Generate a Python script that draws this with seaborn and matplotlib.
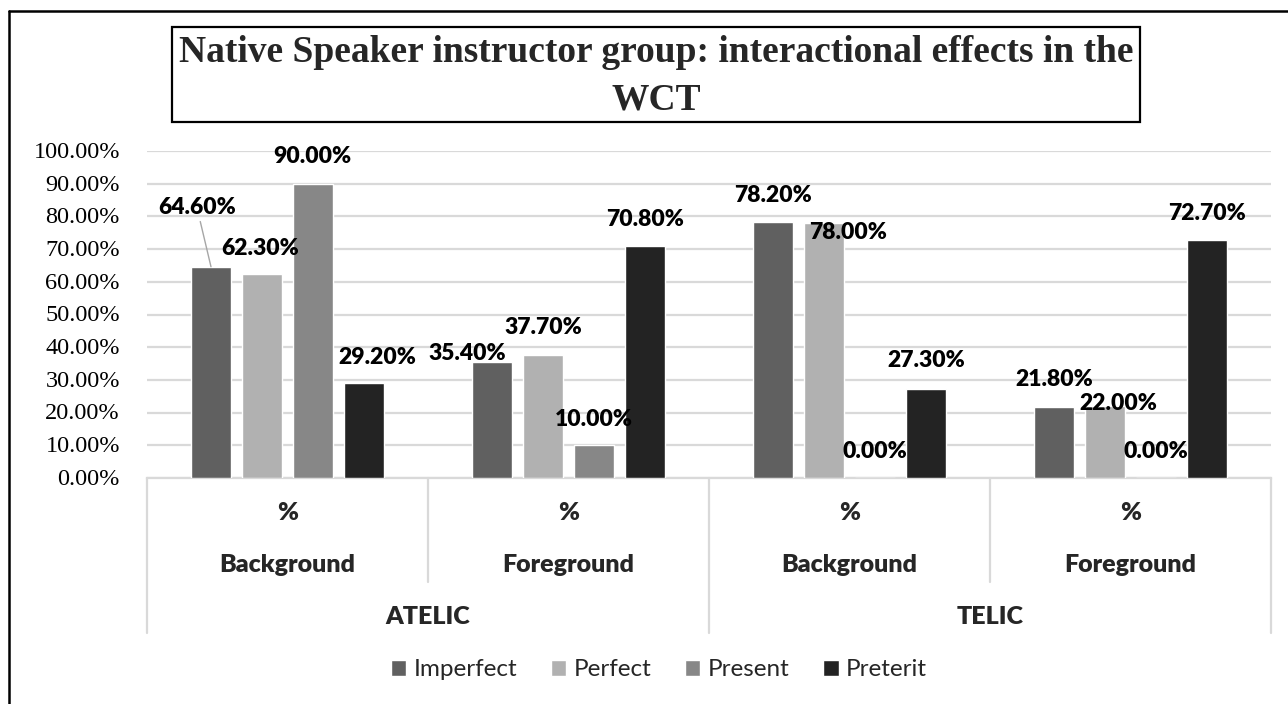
import matplotlib
matplotlib.use('Agg')
import matplotlib.pyplot as plt
from matplotlib.lines import Line2D
from matplotlib.patches import Rectangle
from matplotlib.transforms import blended_transform_factory
import pandas as pd
import seaborn as sns

# data
aspects = ['ATELIC', 'ATELIC', 'TELIC', 'TELIC']
grounds = ['Background', 'Foreground', 'Background', 'Foreground']
tenses = ['Imperfect', 'Perfect', 'Present', 'Preterit']
imperfect = [64.6, 35.4, 78.2, 21.8]
perfect = [62.3, 37.7, 78.0, 22.0]
present = [90.0, 10.0, 0.0, 0.0]
preterit = [29.2, 70.8, 27.3, 72.7]
y_ticks = [0, 10, 20, 30, 40, 50, 60, 70, 80, 90, 100]

colors = ['#606060', '#b1b1b1', '#878787', '#232323']
# label offsets from bar top, in pixels (dx, dy), per tense and group
label_px = [
    [(-14, -59), (-25, -9), (0, -27), (0, -27)],
    [(-2, -26), (0, -27), (24, 10), (13, -3)],
    [(-1, -27), (0, -26), (0, -26), (0, -26)],
    [(13, -25), (0, -27), (0, -28), (0, -27)],
]

W, H = 1288, 704
GRID = '#d9d9d9'
LABEL_FONT = 'Lato'
SERIF = 'Liberation Serif'

rows = []
series = [imperfect, perfect, present, preterit]
keys = [f'{a} {g}' for a, g in zip(aspects, grounds)]
for tense, vals in zip(tenses, series):
    for key, v in zip(keys, vals):
        rows.append({'group': key, 'tense': tense, 'value': v})
df = pd.DataFrame(rows)

sns.set_theme(style='white')
plt.rcParams['font.family'] = [SERIF, 'DejaVu Serif']

fig = plt.figure(figsize=(W / 100, H / 100), dpi=100)
ax = fig.add_axes([147 / W, 1 - 478 / H, 1124 / W, 327 / H])

sns.barplot(data=df, x='group', y='value', hue='tense', order=keys,
            hue_order=tenses, palette=colors, width=0.726, gap=0.216,
            saturation=1, ax=ax, zorder=3)

ax.set_ylim(0, 100)
ax.set_xlim(-0.5, 3.5)
ax.set_yticks(y_ticks)
ax.set_yticklabels([])
ax.tick_params(axis='y', length=0)
ax.set_xticks([])
ax.set_xlabel('')
ax.set_ylabel('')
ax.yaxis.grid(True, color=GRID, lw=1.6, zorder=0)
for s in ['top', 'right', 'left']:
    ax.spines[s].set_visible(False)
ax.spines['bottom'].set_color(GRID)
ax.spines['bottom'].set_linewidth(1.6)

# y tick labels, Times-like, right edge 27 px left of the axis
ytr = blended_transform_factory(ax.transAxes, ax.transData)
for t in y_ticks:
    ax.annotate(f'{t:.2f}%', xy=(0, t), xycoords=ytr, xytext=(-19.5, -1),
                textcoords='offset points', ha='right', va='center',
                family=SERIF, fontsize=17.5, color='black',
                annotation_clip=False)

# data labels
for k, cont in enumerate(ax.containers):
    for i, bar in enumerate(cont):
        dx, dy = label_px[k][i]
        x = bar.get_x() + bar.get_width() / 2
        top = bar.get_height()
        arrow = None
        if k == 0 and i == 0:
            arrow = dict(arrowstyle='-', color='#a6a6a6', lw=1,
                         shrinkA=0, shrinkB=0)
        ax.annotate(f'{series[k][i]:.2f}%', xy=(x, top),
                    xytext=(dx * 0.72, -dy * 0.72), textcoords='offset points',
                    ha='center', va='center', fontsize=16.5,
                    fontweight='heavy', family=LABEL_FONT, color='black',
                    arrowprops=arrow, zorder=5)

# multi-level category axis
tr = blended_transform_factory(ax.transData, ax.transAxes)
for xpos in [-0.5, 1.5, 3.5]:
    ax.add_line(Line2D([xpos, xpos], [0, -0.474], transform=tr, color=GRID,
                       lw=1.6, clip_on=False))
for xpos in [0.5, 2.5]:
    ax.add_line(Line2D([xpos, xpos], [0, -0.318], transform=tr, color=GRID,
                       lw=1.6, clip_on=False))
for i, g in enumerate(grounds):
    ax.text(i, -0.107, '%', transform=tr, ha='center', va='center',
            fontsize=18, fontweight='heavy', family=LABEL_FONT)
    ax.text(i, -0.266, g, transform=tr, ha='center', va='center',
            fontsize=18, fontweight='heavy', family=LABEL_FONT)
for name, xpos in zip(['ATELIC', 'TELIC'], [0.5, 2.5]):
    ax.text(xpos, -0.425, name, transform=tr, ha='center', va='center',
            fontsize=18, fontweight='heavy', family=LABEL_FONT)

# legend
handles, labels = ax.get_legend_handles_labels()
if ax.get_legend() is not None:
    ax.get_legend().remove()
fig.legend(handles, labels, loc='center', bbox_to_anchor=(659 / W, 1 - 670 / H),
           ncol=4, frameon=False, prop={'family': LABEL_FONT, 'size': 17.5},
           handlelength=0.62, handleheight=0.62, handletextpad=0.3,
           columnspacing=1.4)

# title box
fig.patches.append(Rectangle((172 / W, 1 - 122 / H), (1140 - 172) / W,
                             95 / H, transform=fig.transFigure, fill=False,
                             edgecolor='black', lw=1.6))
fig.text(656 / W, 1 - 62 / H,
         'Native Speaker instructor group: interactional effects in the',
         ha='center', va='baseline', family=SERIF,
         fontweight='bold', fontsize=27)
fig.text(656 / W, 1 - 110 / H, 'WCT', ha='center', va='baseline',
         family=SERIF, fontweight='bold', fontsize=27)

# outer frame (left and top edges visible)
fig.add_artist(Line2D([9 / W, 9 / W], [0, 1 - 11 / H], color='black', lw=1.8,
                      transform=fig.transFigure))
fig.add_artist(Line2D([9 / W, 1], [1 - 11 / H, 1 - 11 / H], color='black',
                      lw=1.8, transform=fig.transFigure))

fig.savefig('out.png', dpi=100)
